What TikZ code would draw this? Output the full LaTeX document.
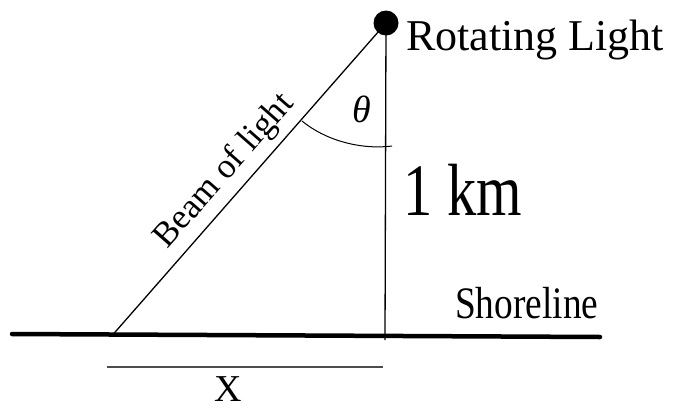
\documentclass[tikz,border=0pt]{standalone}
\usepackage{fontspec}
\setmainfont{Liberation Serif}
\begin{document}
\begin{tikzpicture}[x=1pt,y=-1pt,
  thinline/.style={line width=1.3pt},
  thickline/.style={line width=4.5pt,line cap=round},
  lbl/.style={inner sep=0pt}]
\useasboundingbox (0,0) rectangle (680,407);
% nodes
\node[circle,fill=black,minimum size=25pt,inner sep=0pt] (light) at (386,23) {};
\coordinate (foot) at (385,340);
\coordinate (hit) at (113,334.5);
\coordinate (shoreL) at (12,334);
\coordinate (shoreR) at (600,337);
\coordinate (arcS) at (302,121);
\coordinate (arcE) at (392,146);
\coordinate (xL) at (107,367);
\coordinate (xR) at (383,367);
% lines
\draw[thickline] (shoreL) -- (shoreR);
\draw[thinline] (light.center) -- (foot);
\draw[thinline] (light.center) -- (hit);
\draw[line width=1pt] (arcS) .. controls (325,140) and (360,150) .. (arcE);
\draw[line width=2pt,black!70] (xL) -- (xR);
% labels
\node[lbl,anchor=base west,font=\fontsize{44}{50}\selectfont] (rl) at (406,50) {Rotating Light};
\node[lbl,anchor=base west,font=\fontsize{74}{80}\selectfont] (km) at (403,215) {\scalebox{0.79}[1]{1 km}};
\node[lbl,anchor=base west,font=\fontsize{45}{50}\selectfont] (sh) at (455,318) {\scalebox{0.83}[1]{Shoreline}};
\node[lbl,anchor=base,font=\fontsize{38}{44}\selectfont] (xx) at (228,401) {X};
\node[lbl,anchor=center,font=\fontsize{38}{44}\selectfont\itshape] (th) at (362,109) {θ};
\node[lbl,anchor=base,rotate=48.7,font=\fontsize{35}{40}\selectfont] (beam) at (231,177) {Beam of light};
\end{tikzpicture}
\end{document}
